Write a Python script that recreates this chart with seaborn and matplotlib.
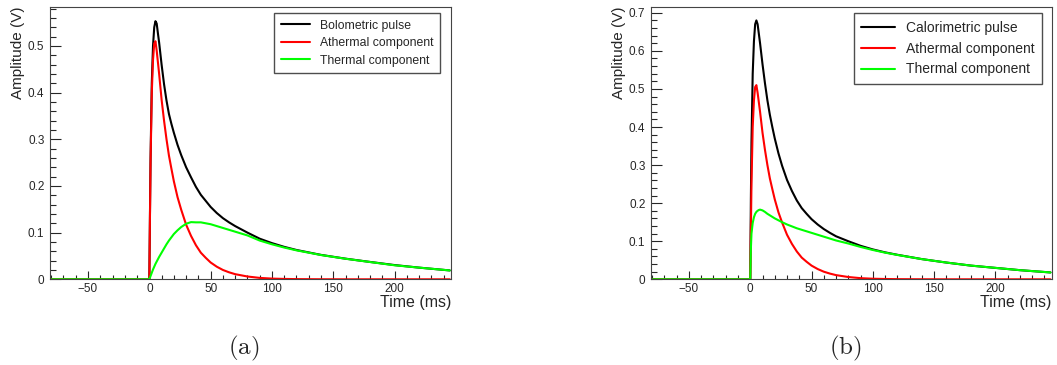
import numpy as np
import pandas as pd
import matplotlib
matplotlib.use("Agg")
import matplotlib.pyplot as plt
from matplotlib.ticker import MultipleLocator
import seaborn as sns

# ---- data (time in ms, amplitude in V) ----
time_ms = [-80, 0, 0.5, 1, 2, 3, 4, 5, 6, 7, 8, 10, 12, 14, 16, 18, 20, 23, 26, 30,
           34, 38, 42, 46, 50, 55, 60, 65, 70, 80, 90, 100, 110, 120, 140, 160,
           180, 200, 220, 245]

# panel (a)
bolo_pulse = [0, 0, 0.135, 0.26, 0.42, 0.50, 0.54, 0.553, 0.548, 0.527, 0.507, 0.46,
              0.418, 0.383, 0.354, 0.333, 0.314, 0.288, 0.266, 0.240, 0.2185, 0.198,
              0.181, 0.168, 0.155, 0.142, 0.131, 0.122, 0.114, 0.100, 0.087, 0.0775,
              0.0695, 0.0628, 0.0523, 0.0442, 0.0372, 0.0305, 0.025, 0.019]
athermal_a = [0, 0, 0.13, 0.25, 0.40, 0.47, 0.505, 0.51, 0.49, 0.465, 0.44, 0.385,
              0.34, 0.30, 0.265, 0.237, 0.21, 0.176, 0.149, 0.117, 0.093, 0.073,
              0.057, 0.046, 0.036, 0.027, 0.020, 0.015, 0.011, 0.006, 0.003, 0.0015,
              0.0008, 0.0004, 0.0001, 0, 0, 0, 0, 0]
thermal_a = [0, 0, 0.0035, 0.007, 0.014, 0.021, 0.027, 0.033, 0.038, 0.043, 0.048,
             0.057, 0.066, 0.075, 0.083, 0.090, 0.097, 0.105, 0.112, 0.119, 0.1225,
             0.122, 0.122, 0.120, 0.118, 0.114, 0.110, 0.106, 0.102, 0.094, 0.083,
             0.075, 0.068, 0.062, 0.052, 0.044, 0.037, 0.030, 0.025, 0.019]

# panel (b)
calo_pulse = [0, 0, 0.21, 0.36, 0.54, 0.625, 0.67, 0.68, 0.67, 0.645, 0.62, 0.565,
              0.515, 0.47, 0.432, 0.40, 0.37, 0.331, 0.298, 0.261, 0.232, 0.207,
              0.187, 0.172, 0.158, 0.144, 0.132, 0.122, 0.113, 0.100, 0.088, 0.0785,
              0.0708, 0.0644, 0.0531, 0.044, 0.036, 0.030, 0.024, 0.018]
athermal_b = athermal_a
thermal_b = [0, 0, 0.08, 0.12, 0.148, 0.163, 0.172, 0.177, 0.180, 0.182, 0.183, 0.181,
             0.177, 0.172, 0.168, 0.164, 0.160, 0.155, 0.150, 0.144, 0.139, 0.134,
             0.130, 0.126, 0.122, 0.117, 0.112, 0.107, 0.102, 0.094, 0.085, 0.077,
             0.070, 0.064, 0.053, 0.044, 0.036, 0.030, 0.024, 0.018]

labels_a = ["Bolometric pulse", "Athermal component", "Thermal component"]
labels_b = ["Calorimetric pulse", "Athermal component", "Thermal component"]
colors = ["#000000", "#ff0000", "#00ff00"]

sns.set_style("white")
plt.rcParams["font.family"] = ["Liberation Sans", "DejaVu Sans"]
plt.rcParams["mathtext.fontset"] = "cm"

W, H = 1057, 365
fig = plt.figure(figsize=(W / 100, H / 100), dpi=100)


def make_panel(rect, series, labels, ylim, leg_anchor, leg_fs, leg_sp, caption, cap_x):
    ax = fig.add_axes(rect)
    frames = []
    for vals, lab in zip(series, labels):
        frames.append(pd.DataFrame({"t": time_ms, "amp": vals, "series": lab}))
    df = pd.concat(frames, ignore_index=True)
    sns.lineplot(data=df, x="t", y="amp", hue="series", hue_order=labels,
                 palette=colors, linewidth=1.5, ax=ax, sort=False,
                 estimator=None)
    ax.set_xlim(-81, 246)
    ax.set_ylim(*ylim)
    ax.xaxis.set_major_locator(MultipleLocator(50))
    ax.xaxis.set_minor_locator(MultipleLocator(10))
    ax.yaxis.set_major_locator(MultipleLocator(0.1))
    ax.yaxis.set_minor_locator(MultipleLocator(0.02))
    ax.xaxis.set_major_formatter(plt.FuncFormatter(
        lambda v, p: ("\u2212%d" % abs(v)) if v < 0 else "%d" % v))
    ax.yaxis.set_major_formatter(plt.FuncFormatter(
        lambda v, p: "0" if abs(v) < 1e-9 else ("%.1f" % v)))
    ax.tick_params(axis="x", which="major", direction="in", length=6, width=0.8,
                   labelsize=8.5, pad=3, bottom=True, top=False)
    ax.tick_params(axis="x", which="minor", direction="in", length=3, width=0.8,
                   bottom=True, top=False)
    ax.tick_params(axis="y", which="major", direction="in", length=8, width=0.8,
                   labelsize=8.5, pad=4, left=True, right=False)
    ax.tick_params(axis="y", which="minor", direction="in", length=4, width=0.8,
                   left=True, right=False)
    for s in ax.spines.values():
        s.set_color("#444444")
        s.set_linewidth(0.8)
    ax.set_xlabel("Time (ms)", loc="right", fontsize=11.5, labelpad=0)
    ax.set_ylabel("Amplitude (V)", loc="top", fontsize=11, labelpad=2)
    leg = ax.legend(loc="upper right", bbox_to_anchor=leg_anchor,
                    borderaxespad=0, fontsize=leg_fs, frameon=True,
                    fancybox=False, edgecolor="#222222", handlelength=2.4,
                    borderpad=0.55, labelspacing=leg_sp, handletextpad=0.8)
    leg.get_frame().set_linewidth(1.0)
    for h in leg.get_lines():
        h.set_linewidth(1.5)
    fig.text(cap_x / W, 1 - 348 / H, r"$\mathrm{" + caption + "}$",
             ha="center", va="center", fontsize=18)
    return ax


make_panel([50 / W, 1 - 279.3 / H, 401 / W, 272.6 / H],
           [bolo_pulse, athermal_a, thermal_a], labels_a, (0, 0.584),
           (0.973, 0.977), 8.8, 0.45, "(a)", 244)
make_panel([651 / W, 1 - 279.3 / H, 400.7 / W, 272.6 / H],
           [calo_pulse, athermal_b, thermal_b], labels_b, (0, 0.716),
           (0.976, 0.977), 10, 0.5, "(b)", 845)

fig.savefig("out.png", dpi=100, facecolor="white")
